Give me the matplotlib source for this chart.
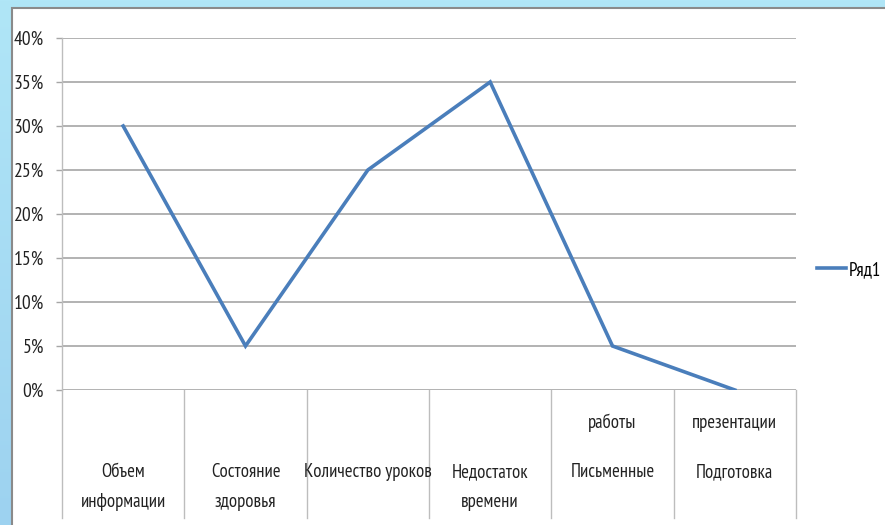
import matplotlib
matplotlib.use("Agg")
import matplotlib.pyplot as plt
import matplotlib.transforms as mtransforms
from matplotlib.patches import Rectangle
from matplotlib.colors import LinearSegmentedColormap
import numpy as np

plt.rcParams['font.family'] = ['PT Sans Narrow', 'Roboto Condensed', 'DejaVu Sans']

# --- данные ---
categories_top = ["Объем", "Состояние", "Количество уроков", "Недостаток", "Письменные", "Подготовка"]
categories_bottom = ["информации", "здоровья", "", "времени", "", ""]
categories_above = ["", "", "", "", "работы", "презентации"]
values = [0.30, 0.05, 0.25, 0.35, 0.05, 0.0]
series_name = "Ряд1"
yticks = [0, 0.05, 0.10, 0.15, 0.20, 0.25, 0.30, 0.35, 0.40]

W, H = 885, 525
fig = plt.figure(figsize=(W / 100, H / 100), dpi=100)

# фон: голубая рамка с лёгким градиентом
bg = fig.add_axes([0, 0, 1, 1], zorder=-10)
grad = np.linspace(0, 1, 256).reshape(-1, 1)
cmap = LinearSegmentedColormap.from_list("bg", ["#9DD2F0", "#B0E6F7"])
bg.imshow(grad, aspect="auto", cmap=cmap, extent=[0, 1, 0, 1], origin="lower")
bg.set_xlim(0, 1)
bg.set_ylim(0, 1)
bg.axis("off")
bg.add_patch(Rectangle((12 / W, -0.01), 1.02, 1 - 8 / H + 0.01,
                       facecolor="white", edgecolor="#8a8a8a", linewidth=1.5))

x0, x1 = 62, 796
y0, y1 = 38, 390
ax = fig.add_axes([x0 / W, 1 - y1 / H, (x1 - x0) / W, (y1 - y0) / H])
ax.set_facecolor("none")

n = len(values)
xs = np.arange(n) + 0.5
ax.plot(xs, values, color="#4A7EBB", linewidth=2.6, label=series_name,
        solid_joinstyle="miter", zorder=3)

ax.set_xlim(0, n)
ax.set_ylim(0, 0.40)
ax.set_yticks(yticks)
ax.set_yticklabels([f"{int(round(t * 100))}%" for t in yticks], fontsize=14, color="#222222")
ax.tick_params(axis="y", length=4, width=1, color="#a6a6a6", pad=9)
ax.set_xticks([])
ax.grid(axis="y", color="#a6a6a6", linewidth=1.2)
for s in ["top", "right", "bottom"]:
    ax.spines[s].set_visible(False)
ax.spines["left"].set_color("#bdbdbd")
ax.spines["left"].set_linewidth(1)

# вертикальные разделители категорий под осью
trans = mtransforms.blended_transform_factory(ax.transData, fig.transFigure)
y_bot = 1 - 518 / H
for i in range(n + 1):
    ax.plot([i, i], [1 - y1 / H, y_bot], transform=trans, color="#bdbdbd",
            linewidth=1, clip_on=False)

# подписи категорий
fs = 13.5
for i in range(n):
    ax.text(xs[i], 1 - 472 / H, categories_top[i], transform=trans, ha="center",
            va="center", fontsize=fs, color="#222222")
    if categories_bottom[i]:
        ax.text(xs[i], 1 - 502 / H, categories_bottom[i], transform=trans, ha="center",
                va="center", fontsize=fs, color="#222222")
    if categories_above[i]:
        ax.text(xs[i], 1 - 423 / H, categories_above[i], transform=trans, ha="center",
                va="center", fontsize=fs, color="#222222")

ax.legend(loc="center left", bbox_to_anchor=(817 / W, 1 - 270 / H),
          bbox_transform=fig.transFigure, frameon=False, fontsize=fs,
          handlelength=1.55, handletextpad=0.15, borderaxespad=0, borderpad=0)

fig.savefig("out.png", dpi=100)
